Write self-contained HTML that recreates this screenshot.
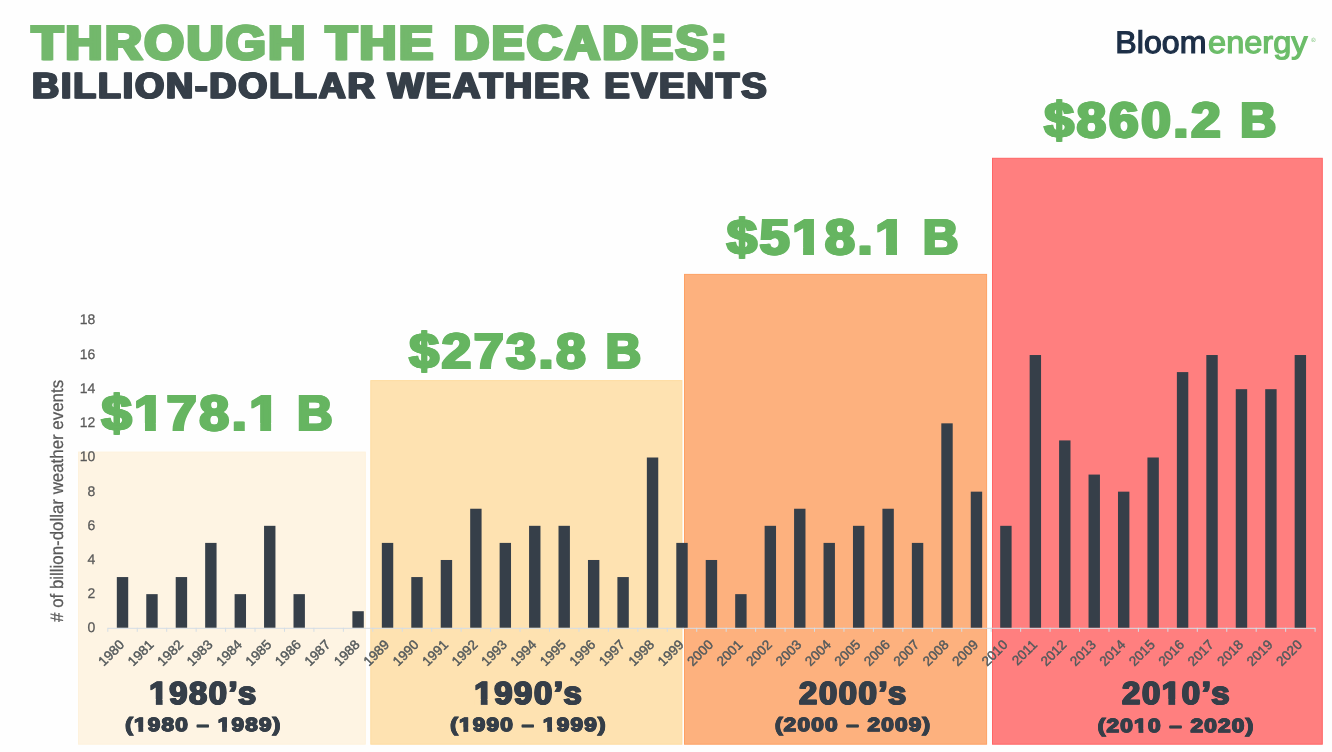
<!DOCTYPE html>
<html lang="en">
<head>
<meta charset="utf-8">
<title>Through the Decades: Billion-Dollar Weather Events</title>
<style>
html,body{margin:0;padding:0;background:#fefefe;}
body{width:1332px;height:752px;overflow:hidden;}
svg{display:block;font-family:"Liberation Sans",Arial,Helvetica,sans-serif;text-rendering:geometricPrecision;}
</style>
</head>
<body>
<svg width="1332" height="752" viewBox="0 0 1332 752" role="img" aria-label="Through the decades: billion-dollar weather events">
<rect width="1332" height="752" fill="#fefefe"/>
<g id="panels">
<rect x="78.5" y="452.1" width="286.8" height="292.1" fill="#fef4e3" stroke="#fef2dd" stroke-width="1"/>
<rect x="370.8" y="380.6" width="311.1" height="363.6" fill="#fee2b1" stroke="#fedca1" stroke-width="1"/>
<rect x="684.5" y="274.4" width="302.1" height="469.8" fill="#fdb17e" stroke="#fda164" stroke-width="1"/>
<rect x="992.5" y="158.3" width="329.8" height="585.9" fill="#ff7f7f" stroke="#ff6565" stroke-width="1"/>
</g>
<g id="title">
<text y="59" font-size="47.53" font-weight="bold" fill="#73b86c" stroke="#73b86c" stroke-width="2.6" stroke-linejoin="miter" letter-spacing="2.6" style="text-shadow:0.80px 0 0 #73b86c,-0.80px 0 0 #73b86c"><tspan x="31.80" textLength="276.10" lengthAdjust="spacingAndGlyphs">THROUGH</tspan> <tspan x="325.90" textLength="109.80" lengthAdjust="spacingAndGlyphs">THE</tspan> <tspan x="453.87" textLength="275.78" lengthAdjust="spacingAndGlyphs">DECADES:</tspan></text>
<text y="98" font-size="36.05" font-weight="bold" fill="#363f49" stroke="#363f49" stroke-width="1.2" stroke-linejoin="miter" letter-spacing="1.9" style="text-shadow:0.80px 0 0 #363f49,-0.80px 0 0 #363f49"><tspan x="32.07" textLength="344.52" lengthAdjust="spacingAndGlyphs">BILLION-DOLLAR</tspan> <tspan x="387.78" textLength="203.13" lengthAdjust="spacingAndGlyphs">WEATHER</tspan> <tspan x="604.24" textLength="164.44" lengthAdjust="spacingAndGlyphs">EVENTS</tspan></text>
</g>
<g id="logo">
<text y="53" font-size="31.2" font-weight="normal" fill="#1d2f47" stroke="#1d2f47" stroke-width="1.2" stroke-linejoin="miter"><tspan x="1115.34" textLength="91.11" lengthAdjust="spacingAndGlyphs" fill="#1d2f47" stroke="#1d2f47">Bloom</tspan><tspan x="1208.12" textLength="99.43" lengthAdjust="spacingAndGlyphs" fill="#6cbd69" stroke="#6cbd69">energy</tspan></text>
<text x="1311.3" y="41.6" font-size="6" fill="#6cbd69">®</text>
</g>
<g id="totals">
<text y="430" font-size="49.56" font-weight="bold" fill="#66b561" stroke="#66b561" stroke-width="2.0" stroke-linejoin="miter" letter-spacing="2.6" style="text-shadow:0.65px 0 0 #66b561,-0.65px 0 0 #66b561"><tspan x="101.78" textLength="180.27" lengthAdjust="spacingAndGlyphs">$178.1</tspan> <tspan x="297.17" textLength="37.93" lengthAdjust="spacingAndGlyphs">B</tspan></text>
<g transform="translate(101.78 430) scale(1.0785 1)" fill="#fefefe"><rect x="30.61" y="-7.06" width="9.45" height="9.06"/><rect x="50.16" y="-7.06" width="8.82" height="9.06"/><rect x="137.46" y="-7.06" width="9.45" height="9.06"/><rect x="157.00" y="-7.06" width="8.82" height="9.06"/></g>
<text y="368" font-size="49.56" font-weight="bold" fill="#66b561" stroke="#66b561" stroke-width="2.0" stroke-linejoin="miter" letter-spacing="2.6" style="text-shadow:0.65px 0 0 #66b561,-0.65px 0 0 #66b561"><tspan x="409.37" textLength="179.11" lengthAdjust="spacingAndGlyphs">$273.8</tspan> <tspan x="605.67" textLength="38.05" lengthAdjust="spacingAndGlyphs">B</tspan></text>
<text y="254" font-size="49.56" font-weight="bold" fill="#66b561" stroke="#66b561" stroke-width="2.0" stroke-linejoin="miter" letter-spacing="2.6" style="text-shadow:0.65px 0 0 #66b561,-0.65px 0 0 #66b561"><tspan x="727.08" textLength="180.91" lengthAdjust="spacingAndGlyphs">$518.1</tspan> <tspan x="922.97" textLength="38.05" lengthAdjust="spacingAndGlyphs">B</tspan></text>
<g transform="translate(727.08 254) scale(1.0823 1)" fill="#fefefe"><rect x="60.77" y="-7.06" width="9.45" height="9.06"/><rect x="80.31" y="-7.06" width="8.82" height="9.06"/><rect x="137.46" y="-7.06" width="9.45" height="9.06"/><rect x="157.00" y="-7.06" width="8.82" height="9.06"/></g>
<text y="137" font-size="49.56" font-weight="bold" fill="#66b561" stroke="#66b561" stroke-width="2.0" stroke-linejoin="miter" letter-spacing="2.6" style="text-shadow:0.65px 0 0 #66b561,-0.65px 0 0 #66b561"><tspan x="1044.37" textLength="179.04" lengthAdjust="spacingAndGlyphs">$860.2</tspan> <tspan x="1240.24" textLength="38.51" lengthAdjust="spacingAndGlyphs">B</tspan></text>
</g>
<g id="chart">
<rect x="107.8" y="627.8" width="1207.3" height="1" fill="#d4dde5"/>
<rect x="107.30" y="627.8" width="1" height="4" fill="#d4dde5"/>
<rect x="136.75" y="627.8" width="1" height="4" fill="#d4dde5"/>
<rect x="166.19" y="627.8" width="1" height="4" fill="#d4dde5"/>
<rect x="195.64" y="627.8" width="1" height="4" fill="#d4dde5"/>
<rect x="225.08" y="627.8" width="1" height="4" fill="#d4dde5"/>
<rect x="254.53" y="627.8" width="1" height="4" fill="#d4dde5"/>
<rect x="283.98" y="627.8" width="1" height="4" fill="#d4dde5"/>
<rect x="313.42" y="627.8" width="1" height="4" fill="#d4dde5"/>
<rect x="342.87" y="627.8" width="1" height="4" fill="#d4dde5"/>
<rect x="372.31" y="627.8" width="1" height="4" fill="#d4dde5"/>
<rect x="401.76" y="627.8" width="1" height="4" fill="#d4dde5"/>
<rect x="431.21" y="627.8" width="1" height="4" fill="#d4dde5"/>
<rect x="460.65" y="627.8" width="1" height="4" fill="#d4dde5"/>
<rect x="490.10" y="627.8" width="1" height="4" fill="#d4dde5"/>
<rect x="519.54" y="627.8" width="1" height="4" fill="#d4dde5"/>
<rect x="548.99" y="627.8" width="1" height="4" fill="#d4dde5"/>
<rect x="578.44" y="627.8" width="1" height="4" fill="#d4dde5"/>
<rect x="607.88" y="627.8" width="1" height="4" fill="#d4dde5"/>
<rect x="637.33" y="627.8" width="1" height="4" fill="#d4dde5"/>
<rect x="666.77" y="627.8" width="1" height="4" fill="#d4dde5"/>
<rect x="696.22" y="627.8" width="1" height="4" fill="#d4dde5"/>
<rect x="725.67" y="627.8" width="1" height="4" fill="#d4dde5"/>
<rect x="755.11" y="627.8" width="1" height="4" fill="#d4dde5"/>
<rect x="784.56" y="627.8" width="1" height="4" fill="#d4dde5"/>
<rect x="814.00" y="627.8" width="1" height="4" fill="#d4dde5"/>
<rect x="843.45" y="627.8" width="1" height="4" fill="#d4dde5"/>
<rect x="872.90" y="627.8" width="1" height="4" fill="#d4dde5"/>
<rect x="902.34" y="627.8" width="1" height="4" fill="#d4dde5"/>
<rect x="931.79" y="627.8" width="1" height="4" fill="#d4dde5"/>
<rect x="961.23" y="627.8" width="1" height="4" fill="#d4dde5"/>
<rect x="990.68" y="627.8" width="1" height="4" fill="#d4dde5"/>
<rect x="1020.13" y="627.8" width="1" height="4" fill="#d4dde5"/>
<rect x="1049.57" y="627.8" width="1" height="4" fill="#d4dde5"/>
<rect x="1079.02" y="627.8" width="1" height="4" fill="#d4dde5"/>
<rect x="1108.46" y="627.8" width="1" height="4" fill="#d4dde5"/>
<rect x="1137.91" y="627.8" width="1" height="4" fill="#d4dde5"/>
<rect x="1167.36" y="627.8" width="1" height="4" fill="#d4dde5"/>
<rect x="1196.80" y="627.8" width="1" height="4" fill="#d4dde5"/>
<rect x="1226.25" y="627.8" width="1" height="4" fill="#d4dde5"/>
<rect x="1255.69" y="627.8" width="1" height="4" fill="#d4dde5"/>
<rect x="1285.14" y="627.8" width="1" height="4" fill="#d4dde5"/>
<rect x="1314.59" y="627.8" width="1" height="4" fill="#d4dde5"/>
<rect x="116.82" y="577.06" width="11.4" height="50.64" fill="#363f49"/>
<rect x="146.27" y="594.14" width="11.4" height="33.56" fill="#363f49"/>
<rect x="175.72" y="577.06" width="11.4" height="50.64" fill="#363f49"/>
<rect x="205.16" y="542.90" width="11.4" height="84.80" fill="#363f49"/>
<rect x="234.61" y="594.14" width="11.4" height="33.56" fill="#363f49"/>
<rect x="264.05" y="525.82" width="11.4" height="101.88" fill="#363f49"/>
<rect x="293.50" y="594.14" width="11.4" height="33.56" fill="#363f49"/>
<rect x="352.39" y="611.22" width="11.4" height="16.48" fill="#363f49"/>
<rect x="381.84" y="542.90" width="11.4" height="84.80" fill="#363f49"/>
<rect x="411.28" y="577.06" width="11.4" height="50.64" fill="#363f49"/>
<rect x="440.73" y="559.98" width="11.4" height="67.72" fill="#363f49"/>
<rect x="470.18" y="508.74" width="11.4" height="118.96" fill="#363f49"/>
<rect x="499.62" y="542.90" width="11.4" height="84.80" fill="#363f49"/>
<rect x="529.07" y="525.82" width="11.4" height="101.88" fill="#363f49"/>
<rect x="558.51" y="525.82" width="11.4" height="101.88" fill="#363f49"/>
<rect x="587.96" y="559.98" width="11.4" height="67.72" fill="#363f49"/>
<rect x="617.40" y="577.06" width="11.4" height="50.64" fill="#363f49"/>
<rect x="646.85" y="457.50" width="11.4" height="170.20" fill="#363f49"/>
<rect x="676.30" y="542.90" width="11.4" height="84.80" fill="#363f49"/>
<rect x="705.74" y="559.98" width="11.4" height="67.72" fill="#363f49"/>
<rect x="735.19" y="594.14" width="11.4" height="33.56" fill="#363f49"/>
<rect x="764.63" y="525.82" width="11.4" height="101.88" fill="#363f49"/>
<rect x="794.08" y="508.74" width="11.4" height="118.96" fill="#363f49"/>
<rect x="823.53" y="542.90" width="11.4" height="84.80" fill="#363f49"/>
<rect x="852.97" y="525.82" width="11.4" height="101.88" fill="#363f49"/>
<rect x="882.42" y="508.74" width="11.4" height="118.96" fill="#363f49"/>
<rect x="911.86" y="542.90" width="11.4" height="84.80" fill="#363f49"/>
<rect x="941.31" y="423.34" width="11.4" height="204.36" fill="#363f49"/>
<rect x="970.76" y="491.66" width="11.4" height="136.04" fill="#363f49"/>
<rect x="1000.20" y="525.82" width="11.4" height="101.88" fill="#363f49"/>
<rect x="1029.65" y="355.02" width="11.4" height="272.68" fill="#363f49"/>
<rect x="1059.10" y="440.42" width="11.4" height="187.28" fill="#363f49"/>
<rect x="1088.54" y="474.58" width="11.4" height="153.12" fill="#363f49"/>
<rect x="1117.99" y="491.66" width="11.4" height="136.04" fill="#363f49"/>
<rect x="1147.43" y="457.50" width="11.4" height="170.20" fill="#363f49"/>
<rect x="1176.88" y="372.10" width="11.4" height="255.60" fill="#363f49"/>
<rect x="1206.33" y="355.02" width="11.4" height="272.68" fill="#363f49"/>
<rect x="1235.77" y="389.18" width="11.4" height="238.52" fill="#363f49"/>
<rect x="1265.22" y="389.18" width="11.4" height="238.52" fill="#363f49"/>
<rect x="1294.66" y="355.02" width="11.4" height="272.68" fill="#363f49"/>
<g font-size="13.5" fill="#545a5c" stroke="#545a5c" stroke-width="0.45" text-anchor="end">
<text transform="translate(125.12 645.5) rotate(-45)">1980</text>
<text transform="translate(154.57 645.5) rotate(-45)">1981</text>
<text transform="translate(184.02 645.5) rotate(-45)">1982</text>
<text transform="translate(213.46 645.5) rotate(-45)">1983</text>
<text transform="translate(242.91 645.5) rotate(-45)">1984</text>
<text transform="translate(272.35 645.5) rotate(-45)">1985</text>
<text transform="translate(301.80 645.5) rotate(-45)">1986</text>
<text transform="translate(331.25 645.5) rotate(-45)">1987</text>
<text transform="translate(360.69 645.5) rotate(-45)">1988</text>
<text transform="translate(390.14 645.5) rotate(-45)">1989</text>
<text transform="translate(419.58 645.5) rotate(-45)">1990</text>
<text transform="translate(449.03 645.5) rotate(-45)">1991</text>
<text transform="translate(478.48 645.5) rotate(-45)">1992</text>
<text transform="translate(507.92 645.5) rotate(-45)">1993</text>
<text transform="translate(537.37 645.5) rotate(-45)">1994</text>
<text transform="translate(566.81 645.5) rotate(-45)">1995</text>
<text transform="translate(596.26 645.5) rotate(-45)">1996</text>
<text transform="translate(625.71 645.5) rotate(-45)">1997</text>
<text transform="translate(655.15 645.5) rotate(-45)">1998</text>
<text transform="translate(684.60 645.5) rotate(-45)">1999</text>
<text transform="translate(714.04 645.5) rotate(-45)">2000</text>
<text transform="translate(743.49 645.5) rotate(-45)">2001</text>
<text transform="translate(772.94 645.5) rotate(-45)">2002</text>
<text transform="translate(802.38 645.5) rotate(-45)">2003</text>
<text transform="translate(831.83 645.5) rotate(-45)">2004</text>
<text transform="translate(861.27 645.5) rotate(-45)">2005</text>
<text transform="translate(890.72 645.5) rotate(-45)">2006</text>
<text transform="translate(920.16 645.5) rotate(-45)">2007</text>
<text transform="translate(949.61 645.5) rotate(-45)">2008</text>
<text transform="translate(979.06 645.5) rotate(-45)">2009</text>
<text transform="translate(1008.50 645.5) rotate(-45)">2010</text>
<text transform="translate(1037.95 645.5) rotate(-45)">2011</text>
<text transform="translate(1067.39 645.5) rotate(-45)">2012</text>
<text transform="translate(1096.84 645.5) rotate(-45)">2013</text>
<text transform="translate(1126.29 645.5) rotate(-45)">2014</text>
<text transform="translate(1155.73 645.5) rotate(-45)">2015</text>
<text transform="translate(1185.18 645.5) rotate(-45)">2016</text>
<text transform="translate(1214.62 645.5) rotate(-45)">2017</text>
<text transform="translate(1244.07 645.5) rotate(-45)">2018</text>
<text transform="translate(1273.52 645.5) rotate(-45)">2019</text>
<text transform="translate(1302.96 645.5) rotate(-45)">2020</text>
</g>
<g font-size="14" fill="#595959" stroke="#595959" stroke-width="0.25" text-anchor="end">
<text x="95.3" y="324.42">18</text>
<text x="95.3" y="358.64">16</text>
<text x="95.3" y="392.86">14</text>
<text x="95.3" y="427.08">12</text>
<text x="95.3" y="461.30">10</text>
<text x="95.3" y="495.52">8</text>
<text x="95.3" y="529.74">6</text>
<text x="95.3" y="563.96">4</text>
<text x="95.3" y="598.18">2</text>
<text x="95.3" y="632.40">0</text>
</g>
<text transform="translate(62.7 621.9) rotate(-90)" font-size="18" textLength="242" lengthAdjust="spacingAndGlyphs" fill="#595959" stroke="#595959" stroke-width="0.25"># of billion-dollar weather events</text>
</g>
<g id="decades">
<text y="704" font-size="31.83" font-weight="bold" fill="#363f49" stroke="#363f49" stroke-width="1.2" stroke-linejoin="miter" letter-spacing="1.6" style="text-shadow:0.50px 0 0 #363f49,-0.50px 0 0 #363f49"><tspan x="149.37" textLength="108.45" lengthAdjust="spacingAndGlyphs">1980’s</tspan></text>
<g transform="translate(149.37 704) scale(1.0252 1)" fill="#fef4e3"><rect x="-0.10" y="-4.85" width="6.42" height="6.45"/><rect x="12.90" y="-4.85" width="6.02" height="6.45"/></g>
<text y="731" font-size="18.9" font-weight="bold" fill="#363f49" stroke="#363f49" stroke-width="1.0" stroke-linejoin="miter" letter-spacing="1.0" style="text-shadow:0.20px 0 0 #363f49,-0.20px 0 0 #363f49"><tspan x="125.30" textLength="156.10" lengthAdjust="spacingAndGlyphs">(1980 <tspan stroke-width="0.5">–</tspan> 1989)</tspan></text>
<g transform="translate(125.30 731) scale(1.1946 1)" fill="#fef4e3"><rect x="6.77" y="-3.43" width="4.22" height="4.93"/><rect x="14.99" y="-3.43" width="3.98" height="4.93"/><rect x="76.82" y="-3.43" width="4.22" height="4.93"/><rect x="85.03" y="-3.43" width="3.98" height="4.93"/></g>
<text y="704" font-size="31.83" font-weight="bold" fill="#363f49" stroke="#363f49" stroke-width="1.2" stroke-linejoin="miter" letter-spacing="1.6" style="text-shadow:0.50px 0 0 #363f49,-0.50px 0 0 #363f49"><tspan x="474.27" textLength="109.07" lengthAdjust="spacingAndGlyphs">1990’s</tspan></text>
<g transform="translate(474.27 704) scale(1.0311 1)" fill="#fee2b1"><rect x="-0.10" y="-4.85" width="6.42" height="6.45"/><rect x="12.90" y="-4.85" width="6.02" height="6.45"/></g>
<text y="731" font-size="18.9" font-weight="bold" fill="#363f49" stroke="#363f49" stroke-width="1.0" stroke-linejoin="miter" letter-spacing="1.0" style="text-shadow:0.20px 0 0 #363f49,-0.20px 0 0 #363f49"><tspan x="450.30" textLength="156.40" lengthAdjust="spacingAndGlyphs">(1990 <tspan stroke-width="0.5">–</tspan> 1999)</tspan></text>
<g transform="translate(450.30 731) scale(1.1969 1)" fill="#fee2b1"><rect x="6.77" y="-3.43" width="4.22" height="4.93"/><rect x="14.99" y="-3.43" width="3.98" height="4.93"/><rect x="76.82" y="-3.43" width="4.22" height="4.93"/><rect x="85.03" y="-3.43" width="3.98" height="4.93"/></g>
<text y="704" font-size="31.83" font-weight="bold" fill="#363f49" stroke="#363f49" stroke-width="1.2" stroke-linejoin="miter" letter-spacing="1.6" style="text-shadow:0.50px 0 0 #363f49,-0.50px 0 0 #363f49"><tspan x="799.10" textLength="108.73" lengthAdjust="spacingAndGlyphs">2000’s</tspan></text>
<text y="731" font-size="18.9" font-weight="bold" fill="#363f49" stroke="#363f49" stroke-width="1.0" stroke-linejoin="miter" letter-spacing="1.0" style="text-shadow:0.20px 0 0 #363f49,-0.20px 0 0 #363f49"><tspan x="774.90" textLength="156.40" lengthAdjust="spacingAndGlyphs">(2000 <tspan stroke-width="0.5">–</tspan> 2009)</tspan></text>
<text y="704" font-size="31.83" font-weight="bold" fill="#363f49" stroke="#363f49" stroke-width="1.2" stroke-linejoin="miter" letter-spacing="1.6" style="text-shadow:0.50px 0 0 #363f49,-0.50px 0 0 #363f49"><tspan x="1122.00" textLength="109.24" lengthAdjust="spacingAndGlyphs">2010’s</tspan></text>
<g transform="translate(1122.00 704) scale(1.0327 1)" fill="#ff7f7f"><rect x="38.50" y="-4.85" width="6.42" height="6.45"/><rect x="51.49" y="-4.85" width="6.02" height="6.45"/></g>
<text y="732" font-size="18.9" font-weight="bold" fill="#363f49" stroke="#363f49" stroke-width="1.0" stroke-linejoin="miter" letter-spacing="1.0" style="text-shadow:0.20px 0 0 #363f49,-0.20px 0 0 #363f49"><tspan x="1097.80" textLength="156.60" lengthAdjust="spacingAndGlyphs">(2010 <tspan stroke-width="0.5">–</tspan> 2020)</tspan></text>
<g transform="translate(1097.80 732) scale(1.1985 1)" fill="#ff7f7f"><rect x="29.79" y="-3.43" width="4.22" height="4.93"/><rect x="38.00" y="-3.43" width="3.98" height="4.93"/></g>
</g>
</svg>
</body>
</html>
